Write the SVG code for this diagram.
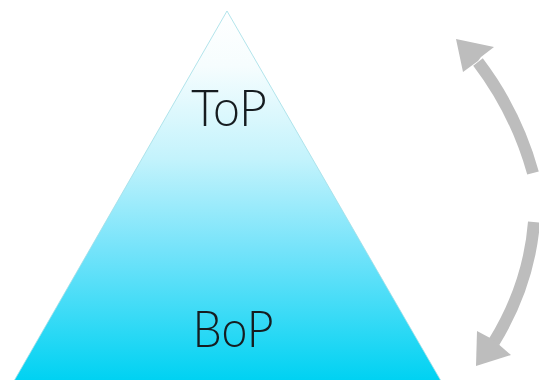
<svg xmlns="http://www.w3.org/2000/svg" width="539" height="380" viewBox="0 0 539 380">
  <style>
    .label { font-family: "Lato", "Liberation Sans", sans-serif; font-weight: 300; font-size: 52px; fill: #161c20; text-anchor: middle; }
    .shaft { fill: none; stroke: #bdbdbd; stroke-width: 12; stroke-linecap: butt; }
    .head { fill: #bdbdbd; stroke: none; }
  </style>
  <defs>
    <linearGradient id="pyrGrad" gradientUnits="userSpaceOnUse" x1="0" y1="10" x2="0" y2="380">
      <stop offset="0" stop-color="#ffffff"/>
      <stop offset="0.15" stop-color="#f6fdfe"/>
      <stop offset="0.4" stop-color="#c4f3fc"/>
      <stop offset="0.65" stop-color="#74e3fa"/>
      <stop offset="1" stop-color="#00d2f2"/>
    </linearGradient>
  </defs>
  <rect width="539" height="380" fill="#ffffff"/>
  <g id="pyramid">
    <polygon points="227,11 14,381 441,381" fill="url(#pyrGrad)" stroke="#9fdde6" stroke-width="0.8"/>
  </g>
  <g id="top-label">
    <text class="label" x="229" y="126" textLength="76" lengthAdjust="spacingAndGlyphs">ToP</text>
  </g>
  <g id="bottom-label">
    <text class="label" x="233" y="347" textLength="81" lengthAdjust="spacingAndGlyphs">BoP</text>
  </g>
  <g id="connectors">
    <g id="arrow-up">
      <path class="shaft" d="M533,173 Q516,112 478,62"/>
      <polygon class="head" points="456,39 494,47 481,57 478,61 463,72"/>
    </g>
    <g id="arrow-down">
      <path class="shaft" d="M534,222 Q529,285 494,342"/>
      <polygon class="head" points="476,366 477,331 492,339 496,342 511,355"/>
    </g>
  </g>
</svg>
